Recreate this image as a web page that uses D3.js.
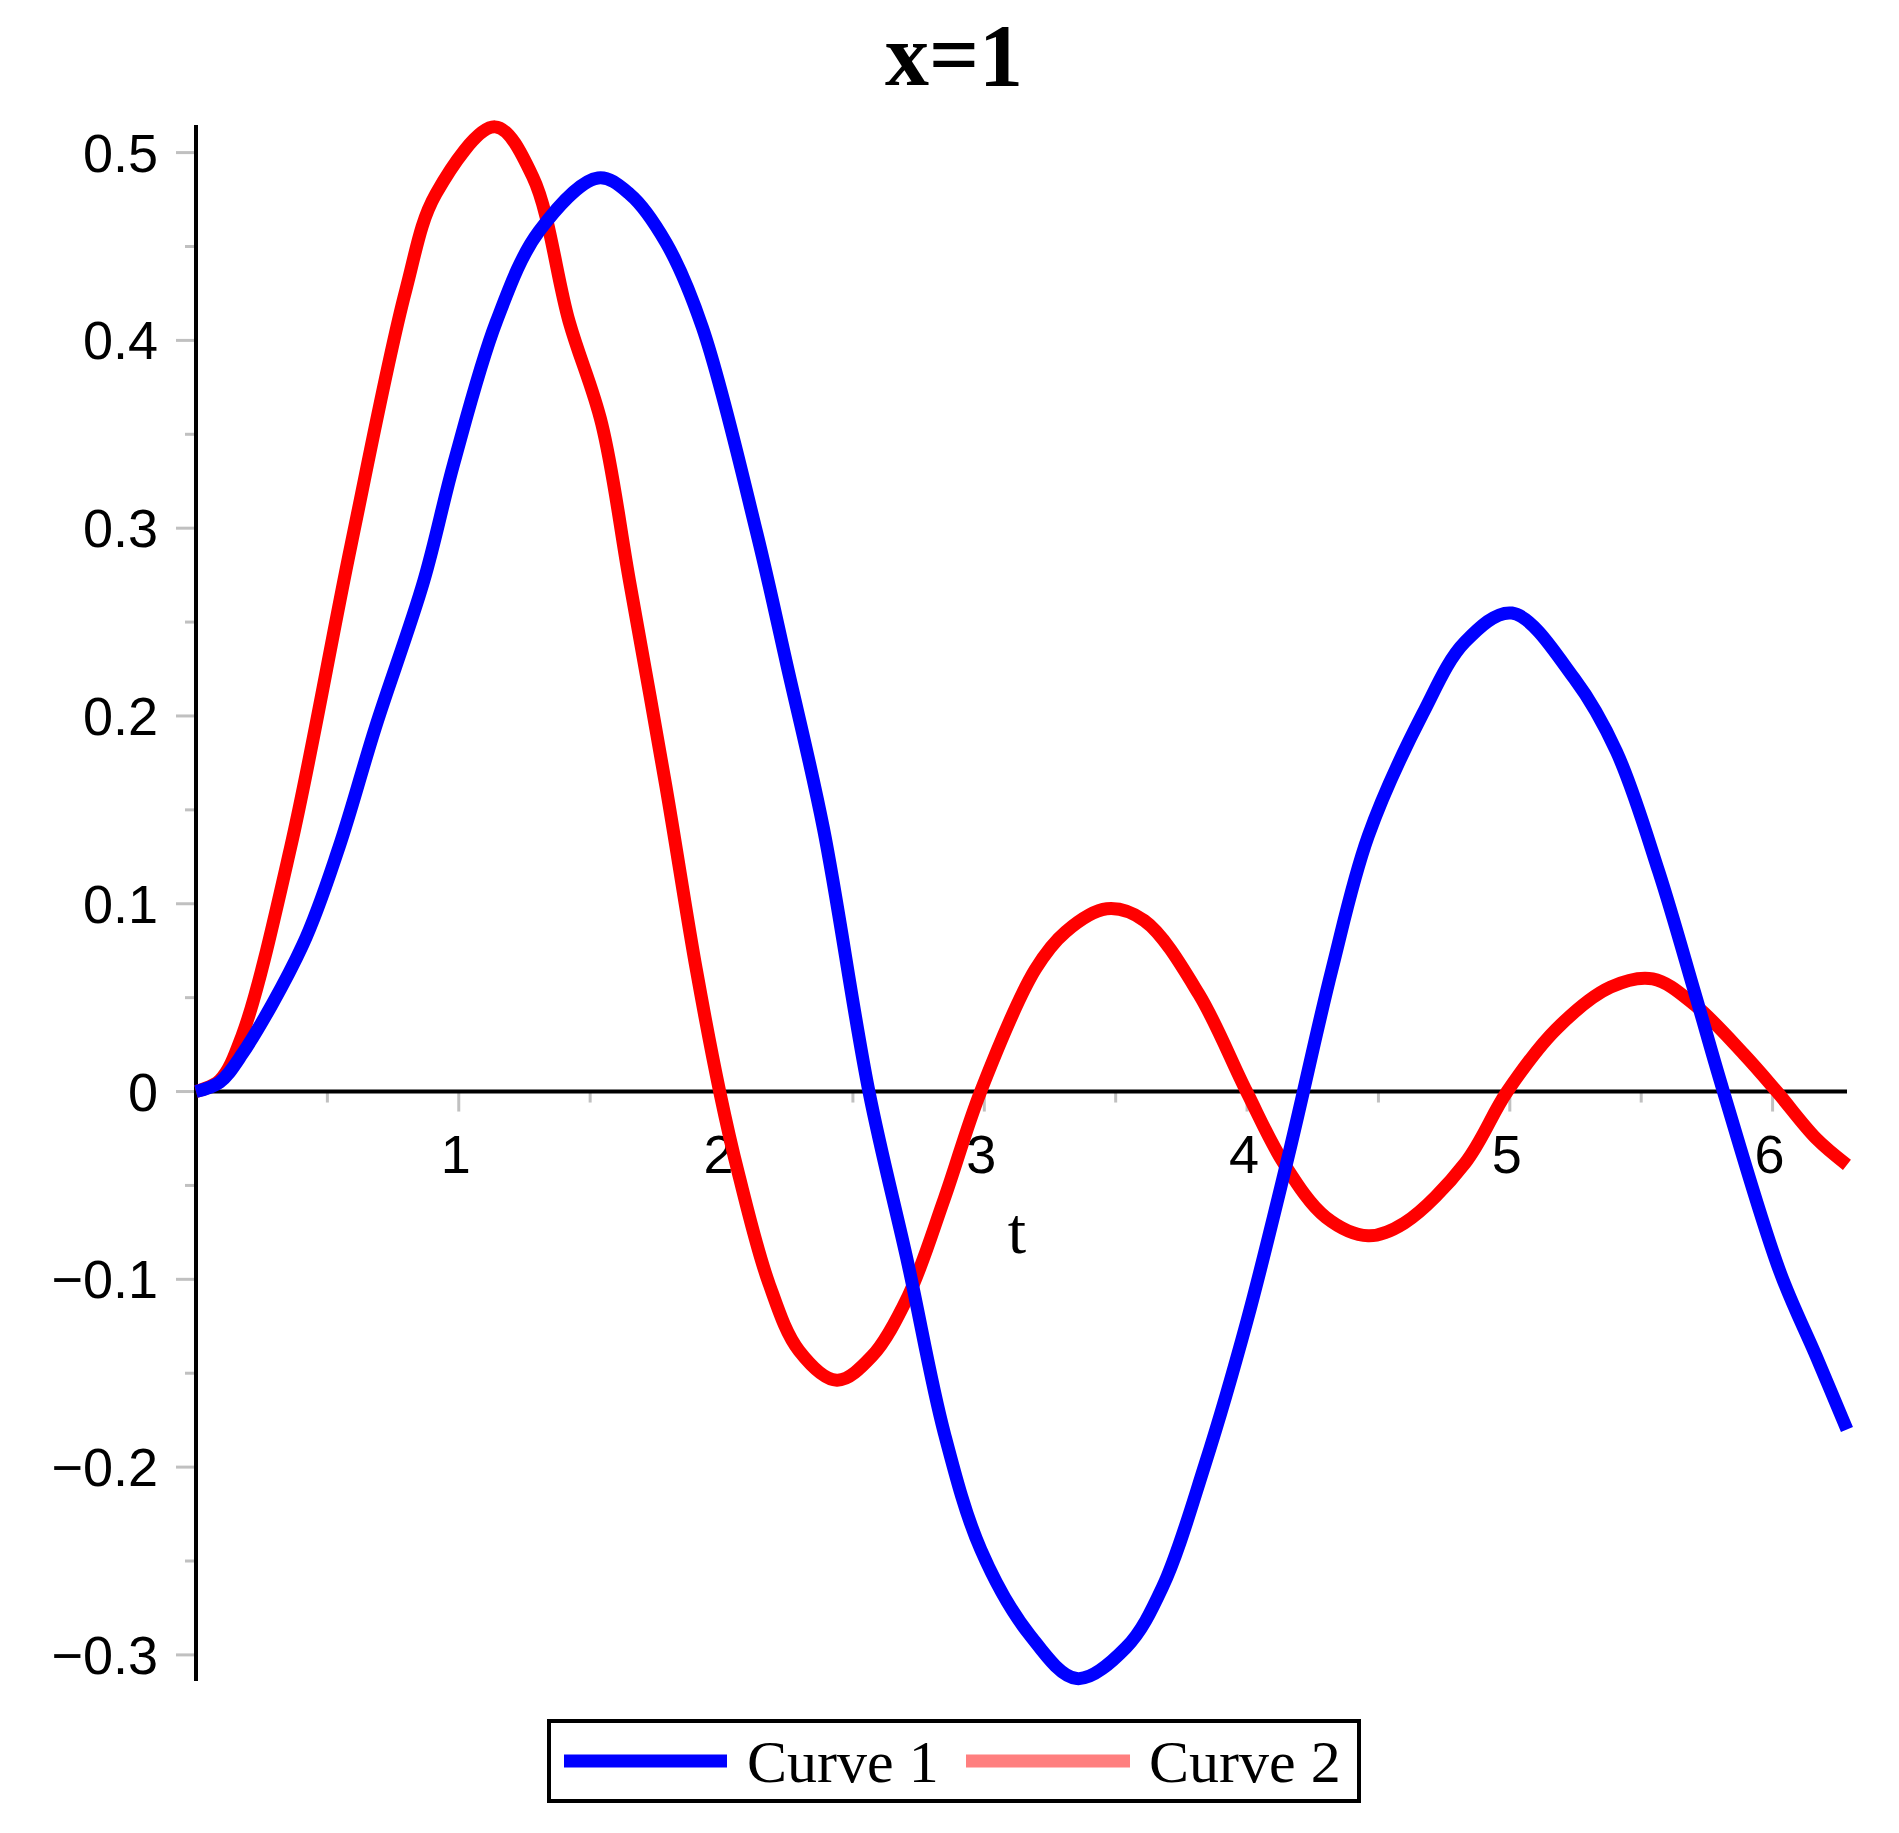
<!DOCTYPE html>
<html>
<head>
<meta charset="utf-8">
<script src="https://cdn.jsdelivr.net/npm/d3@7"></script>
<style>
  html, body { margin: 0; padding: 0; background: #fff; }
  svg { display: block; }
</style>
</head>
<body>
<svg id="chart" width="1899" height="1833"></svg>
<script>
// ---- data ----
const title = "x=1";
const xLabel = "t";
const seriesNames = ["Curve 1", "Curve 2"];
const seriesColors = ["#0000ff", "#ff0000"];
const legendColors = ["#0000ff", "#ff7f7f"];

const xMajorTicks = [1, 2, 3, 4, 5, 6];
const xMinorTicks = [0.5, 1.5, 2.5, 3.5, 4.5, 5.5];
const yMajorTicks = [-0.3, -0.2, -0.1, 0, 0.1, 0.2, 0.3, 0.4, 0.5];
const yMinorTicks = [-0.25, -0.15, -0.05, 0.05, 0.15, 0.25, 0.35, 0.45];
const yTickLabels = ["\u22120.3", "\u22120.2", "\u22120.1", "0", "0.1", "0.2", "0.3", "0.4", "0.5"];
const xTickLabels = ["1", "2", "3", "4", "5", "6"];

// Curve 1 (blue)
const curve1T = [0, 0.09, 0.176, 0.406, 0.544, 0.683, 0.867, 0.982, 1.143, 1.305, 1.53, 1.65, 1.789, 1.927, 2.134, 2.249, 2.388, 2.561, 2.71, 2.848, 2.987, 3.171, 3.352, 3.54, 3.678, 3.839, 4.0, 4.162, 4.323, 4.461, 4.668, 4.83, 5.008, 5.245, 5.406, 5.567, 5.705, 5.813, 6.028, 6.166, 6.283];
const curve1Y = [0, 0.005, 0.020, 0.078, 0.130, 0.194, 0.272, 0.335, 0.410, 0.458, 0.4865, 0.478, 0.452, 0.407, 0.2975, 0.227, 0.140, 0, -0.092, -0.182, -0.244, -0.289, -0.3126, -0.296, -0.264, -0.199, -0.122, -0.0315, 0.065, 0.136, 0.201, 0.2395, 0.2548, 0.220, 0.181, 0.117, 0.052, 0, -0.096, -0.141, -0.180];

// Curve 2 (red)
const curve2T = [0, 0.09, 0.176, 0.36, 0.59, 0.798, 0.913, 1.138, 1.282, 1.42, 1.544, 1.65, 1.789, 1.904, 1.993, 2.065, 2.18, 2.295, 2.439, 2.572, 2.71, 2.848, 2.986, 3.194, 3.309, 3.466, 3.609, 3.816, 3.998, 4.139, 4.3, 4.461, 4.599, 4.83, 4.99, 5.175, 5.383, 5.544, 5.705, 5.89, 6.016, 6.166, 6.283];
const curve2Y = [0, 0.006, 0.030, 0.130, 0.291, 0.4265, 0.478, 0.5137, 0.487, 0.410, 0.3556, 0.2717, 0.162, 0.065, 0, -0.044, -0.102, -0.138, -0.1537, -0.141, -0.109, -0.057, 0, 0.065, 0.085, 0.0973, 0.091, 0.052, 0, -0.038, -0.067, -0.0768, -0.070, -0.038, 0, 0.033, 0.0556, 0.060, 0.046, 0.020, 0, -0.025, -0.039];

// ---- layout ----
const svg = d3.select("#chart");
const x = d3.scaleLinear().domain([0, 2 * Math.PI]).range([196, 1847]);
const y = d3.scaleLinear().domain([-0.3139, 0.5147]).range([1681, 125]);

// title
svg.append("text")
  .attr("x", 954).attr("y", 85)
  .attr("text-anchor", "middle")
  .attr("font-family", "'Liberation Serif', 'Times New Roman', serif")
  .attr("font-weight", "bold")
  .attr("font-size", 88)
  .attr("fill", "#000")
  .text(title);

// y ticks
const tickColor = "#c0c0c0";
svg.append("g").selectAll("line.ymaj").data(yMajorTicks).join("line")
  .attr("x1", x(0) - 20).attr("x2", x(0))
  .attr("y1", d => y(d)).attr("y2", d => y(d))
  .attr("stroke", tickColor).attr("stroke-width", 3);
svg.append("g").selectAll("line.ymin").data(yMinorTicks).join("line")
  .attr("x1", x(0) - 11).attr("x2", x(0))
  .attr("y1", d => y(d)).attr("y2", d => y(d))
  .attr("stroke", tickColor).attr("stroke-width", 3);

// x ticks
svg.append("g").selectAll("line.xmaj").data(xMajorTicks).join("line")
  .attr("x1", d => x(d)).attr("x2", d => x(d))
  .attr("y1", y(0)).attr("y2", y(0) + 20)
  .attr("stroke", tickColor).attr("stroke-width", 3);
svg.append("g").selectAll("line.xmin").data(xMinorTicks).join("line")
  .attr("x1", d => x(d)).attr("x2", d => x(d))
  .attr("y1", y(0)).attr("y2", y(0) + 11)
  .attr("stroke", tickColor).attr("stroke-width", 3);

// y tick labels
svg.append("g").selectAll("text").data(yMajorTicks).join("text")
  .attr("x", 158)
  .attr("y", d => y(d) + 19)
  .attr("text-anchor", "end")
  .attr("font-family", "'Liberation Sans', Arial, sans-serif")
  .attr("font-size", 54)
  .attr("fill", "#000")
  .text((d, i) => yTickLabels[i]);

// x tick labels
svg.append("g").selectAll("text").data(xMajorTicks).join("text")
  .attr("x", d => x(d) - 3)
  .attr("y", 1173)
  .attr("text-anchor", "middle")
  .attr("font-family", "'Liberation Sans', Arial, sans-serif")
  .attr("font-size", 54)
  .attr("fill", "#000")
  .text((d, i) => xTickLabels[i]);

// x label
svg.append("text")
  .attr("x", 1017).attr("y", 1253)
  .attr("text-anchor", "middle")
  .attr("font-family", "'Liberation Serif', 'Times New Roman', serif")
  .attr("font-size", 66)
  .attr("fill", "#000")
  .text(xLabel);

// axes lines
svg.append("line")
  .attr("x1", x(0)).attr("x2", x(0))
  .attr("y1", y.range()[1]).attr("y2", y.range()[0])
  .attr("stroke", "#000").attr("stroke-width", 4);
svg.append("line")
  .attr("x1", x(0)).attr("x2", x.range()[1])
  .attr("y1", y(0)).attr("y2", y(0))
  .attr("stroke", "#000").attr("stroke-width", 4);

// curves
const line = d3.line().x(d => x(d[0])).y(d => y(d[1])).curve(d3.curveCatmullRom.alpha(0.5));
const curves = [
  d3.zip(curve1T, curve1Y),
  d3.zip(curve2T, curve2Y)
];
svg.append("path").datum(curves[1])
  .attr("d", line).attr("fill", "none")
  .attr("stroke", seriesColors[1]).attr("stroke-width", 13)
  .attr("stroke-linejoin", "round");
svg.append("path").datum(curves[0])
  .attr("d", line).attr("fill", "none")
  .attr("stroke", seriesColors[0]).attr("stroke-width", 13)
  .attr("stroke-linejoin", "round");

// legend
const lg = svg.append("g");
lg.append("rect")
  .attr("x", 549).attr("y", 1721).attr("width", 810).attr("height", 80)
  .attr("fill", "#fff").attr("stroke", "#000").attr("stroke-width", 4);
const legendItems = [
  { x1: 564, x2: 727, tx: 747 },
  { x1: 966, x2: 1130, tx: 1149 }
];
legendItems.forEach((it, i) => {
  lg.append("line")
    .attr("x1", it.x1).attr("x2", it.x2)
    .attr("y1", 1761).attr("y2", 1761)
    .attr("stroke", legendColors[i]).attr("stroke-width", 13);
  lg.append("text")
    .attr("x", it.tx).attr("y", 1782)
    .attr("font-family", "'Liberation Serif', 'Times New Roman', serif")
    .attr("font-size", 60)
    .attr("fill", "#000")
    .text(seriesNames[i]);
});
</script>
</body>
</html>
